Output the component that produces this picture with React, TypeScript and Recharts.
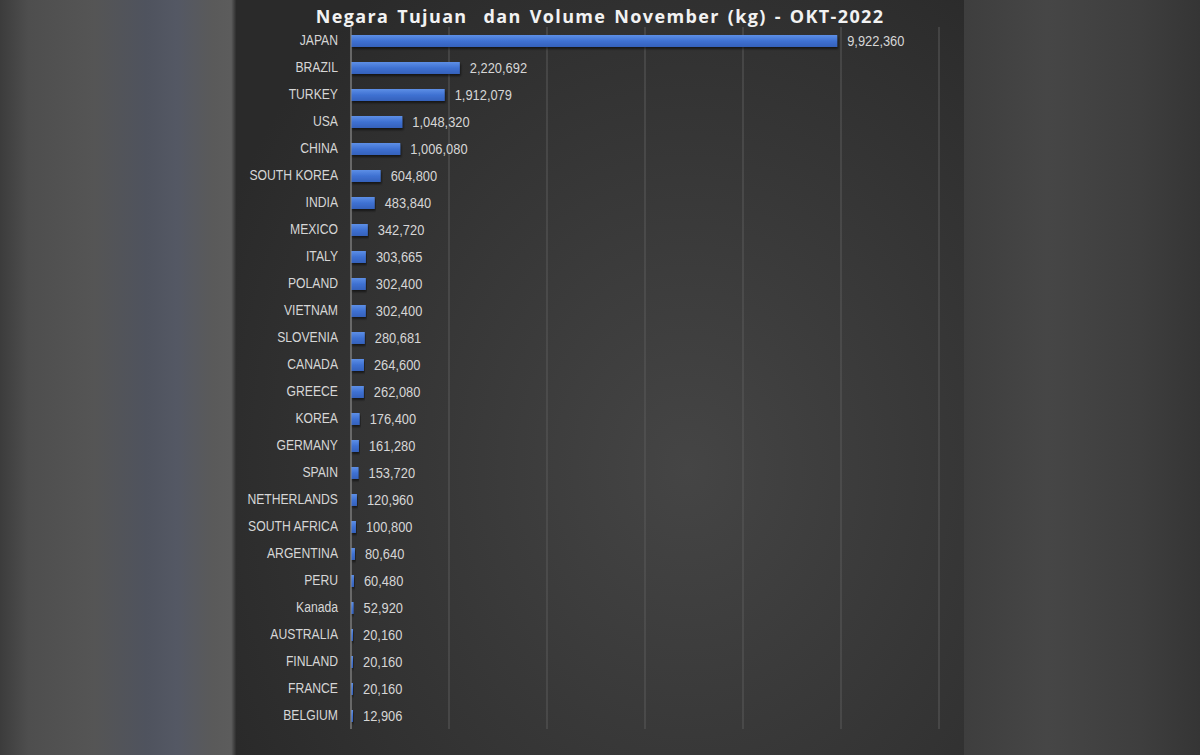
import { BarChart, Bar, XAxis, YAxis, CartesianGrid, LabelList } from 'recharts';

const countries = [
  'JAPAN', 'BRAZIL', 'TURKEY', 'USA', 'CHINA', 'SOUTH KOREA', 'INDIA', 'MEXICO', 'ITALY',
  'POLAND', 'VIETNAM', 'SLOVENIA', 'CANADA', 'GREECE', 'KOREA', 'GERMANY', 'SPAIN',
  'NETHERLANDS', 'SOUTH AFRICA', 'ARGENTINA', 'PERU', 'Kanada', 'AUSTRALIA', 'FINLAND',
  'FRANCE', 'BELGIUM',
];

const volumes = [
  9922360, 2220692, 1912079, 1048320, 1006080, 604800, 483840, 342720, 303665,
  302400, 302400, 280681, 264600, 262080, 176400, 161280, 153720,
  120960, 100800, 80640, 60480, 52920, 20160, 20160,
  20160, 12906,
];

const xTicks = [0, 2000000, 4000000, 6000000, 8000000, 10000000, 12000000];

const title = 'Negara Tujuan  dan Volume November (kg) - OKT-2022';

const labelFont = "'Liberation Sans', sans-serif";

// narrow look, like the Calibri labels of the original
function CountryTick({ x, y, payload }: any) {
  return (
    <g transform={`translate(${x},${y})`}>
      <text
        transform="scale(0.87,1)"
        textAnchor="end"
        dy="0.35em"
        fill="#d6d6d6"
        fontSize={14}
        fontFamily={labelFont}
      >
        {payload.value}
      </text>
    </g>
  );
}

function ValueLabel({ x, y, width, height, value }: any) {
  const tx = x + width + 10;
  const ty = y + height / 2;
  return (
    <g transform={`translate(${tx},${ty})`}>
      <text
        transform="scale(0.92,1)"
        textAnchor="start"
        dy="0.35em"
        fill="#d6d6d6"
        fontSize={14}
        fontFamily={labelFont}
      >
        {Number(value).toLocaleString('en-US')}
      </text>
    </g>
  );
}

export default function App() {
  const data = countries.map((name, i) => ({ name, volume: volumes[i] }));

  return (
    <div
      style={{
        position: 'absolute',
        left: 0,
        top: 0,
        width: 1200,
        height: 755,
        overflow: 'hidden',
        background: '#444',
      }}
    >
      {/* blurred side panels */}
      <div
        style={{
          position: 'absolute',
          left: 0,
          top: 0,
          width: 236,
          height: 755,
          background:
            'linear-gradient(to right, #3c3c3c 0%, #4e4e4e 12%, #555 40%, #4f535e 62%, #545864 75%, #5a5a5a 90%, #5c5c5c 98%, #2e2e2e 100%)',
        }}
      />
      <div
        style={{
          position: 'absolute',
          left: 964,
          top: 0,
          width: 236,
          height: 755,
          background: 'linear-gradient(to right, #3e3e3e 0%, #464646 35%, #3e3e3e 75%, #353535 100%)',
        }}
      />
      {/* chart panel */}
      <div
        style={{
          position: 'absolute',
          left: 236,
          top: 0,
          width: 728,
          height: 755,
          background: 'radial-gradient(ellipse 70% 80% at 62% 62%, #454545 0%, #363636 55%, #2a2a2a 100%)',
        }}
      >
        <div
          style={{
            position: 'absolute',
            left: 0,
            top: 4,
            width: 728,
            textAlign: 'center',
            fontFamily: "'Open Sans', sans-serif",
            fontWeight: 700,
            fontSize: 18,
            letterSpacing: 1.35,
            wordSpacing: 2,
            color: '#f2f2f2',
            whiteSpace: 'pre',
          }}
        >
          {title}
        </div>
        <BarChart
          width={728}
          height={755}
          data={data}
          layout="vertical"
          margin={{ top: 27, right: 25, bottom: 26, left: 0 }}
          style={{ position: 'absolute', left: 0, top: 0 }}
        >
          <defs>
            <linearGradient id="barFill" x1="0" y1="0" x2="0" y2="1">
              <stop offset="0%" stopColor="#5d8fe6" />
              <stop offset="50%" stopColor="#3f71d2" />
              <stop offset="100%" stopColor="#3461bb" />
            </linearGradient>
            <filter id="barShadow" x="-5%" y="-30%" width="110%" height="180%">
              <feDropShadow dx="1" dy="2" stdDeviation="1.2" floodColor="#000" floodOpacity="0.55" />
            </filter>
          </defs>
          <CartesianGrid horizontal={false} stroke="#5a5a5a" strokeWidth={1} />
          <XAxis type="number" domain={[0, 12000000]} ticks={xTicks} hide />
          <YAxis
            type="category"
            dataKey="name"
            width={115}
            tickLine={false}
            tickMargin={7}
            axisLine={{ stroke: '#8c8c8c' }}
            tick={<CountryTick />}
            interval={0}
          />
          <Bar
            dataKey="volume"
            fill="url(#barFill)"
            barSize={12}
            minPointSize={2}
            filter="url(#barShadow)"
            isAnimationActive={false}
          >
            <LabelList dataKey="volume" content={<ValueLabel />} />
          </Bar>
        </BarChart>
      </div>
    </div>
  );
}
